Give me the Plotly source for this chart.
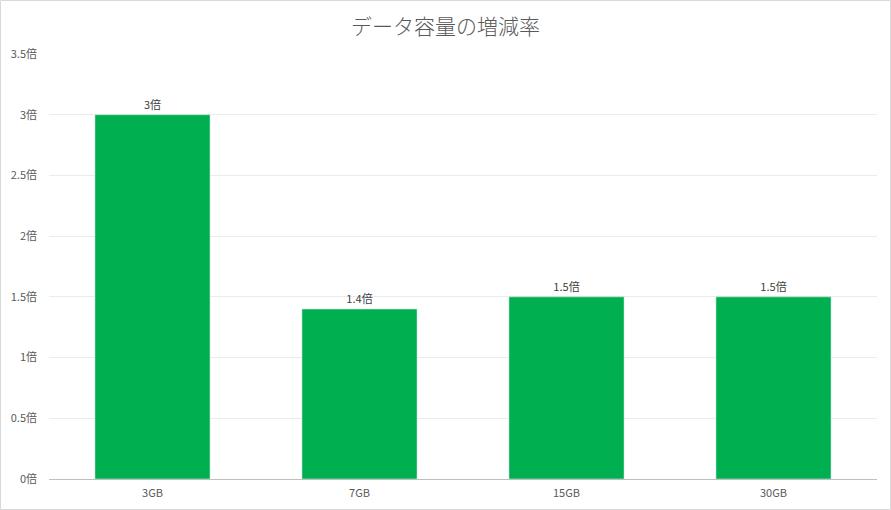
import plotly.graph_objects as go

# data
categories = ["3GB", "7GB", "15GB", "30GB"]
ratios = [3, 1.4, 1.5, 1.5]
tick_vals = [0, 0.5, 1, 1.5, 2, 2.5, 3, 3.5]
tick_text = ["0倍", "0.5倍", "1倍", "1.5倍", "2倍", "2.5倍", "3倍", "3.5倍"]

W, H = 891, 510
ml, mr, mt, mb = 49, 14, 54, 31
pw, ph = W - ml - mr, H - mt - mb

fig = go.Figure()
fig.add_trace(go.Bar(
    x=categories, y=ratios,
    marker_color="#00B050",
    text=[f"{v:g}倍" for v in ratios],
    textposition="outside",
    textfont=dict(size=11, color="#404040"),
    cliponaxis=False,
))

fig.update_layout(
    width=W, height=H,
    margin=dict(l=ml, r=mr, t=mt, b=mb),
    paper_bgcolor="white", plot_bgcolor="white",
    font=dict(family="Segoe UI, Noto Sans CJK JP, sans-serif", color="#595959"),
    title=dict(text="データ容量の増減率", x=0.5, xanchor="center", y=0.947, yanchor="middle",
               font=dict(size=21, color="#595959", family="Noto Sans CJK JP", weight=300)),
    bargap=0.444,
    showlegend=False,
)
fig.update_xaxes(showgrid=False, showline=True, linecolor="#bfbfbf", linewidth=1,
                 tickfont=dict(size=11, color="#595959"), ticks="",
                 ticklabelstandoff=4, automargin=False)
fig.update_yaxes(range=[0, 3.5], tickvals=tick_vals, ticktext=tick_text,
                 showgrid=True, gridcolor="#ebebeb", zeroline=False,
                 tickfont=dict(size=11, color="#595959"), ticks="",
                 ticklabelstandoff=11, automargin=False)

# outer border of the chart area
fig.add_shape(type="rect", xref="paper", yref="paper",
              x0=-(ml - 0.5) / pw, x1=1 + (mr - 0.5) / pw,
              y0=-(mb - 0.5) / ph, y1=1 + (mt - 0.5) / ph,
              line=dict(color="#d9d9d9", width=1), layer="below")

# page without body margin / scrollbars so the figure sits at 0,0
page_js = ("document.body.style.margin='0';"
           "document.body.style.overflow='hidden';"
           "document.documentElement.style.overflow='hidden';")
fig.write_html("out.html", config={"displayModeBar": False}, post_script=page_js)
